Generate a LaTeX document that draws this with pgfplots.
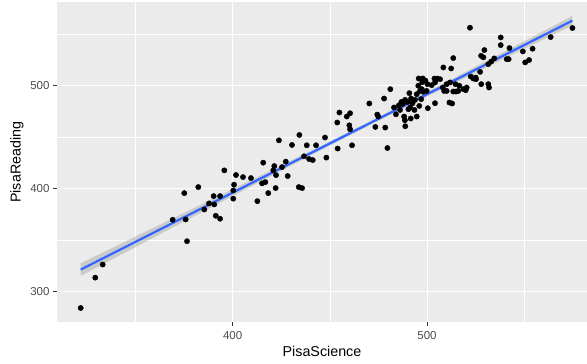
\documentclass[border=0pt]{standalone}
\usepackage{fontspec}
\setmainfont{Liberation Sans}
\usepackage{pgfplots}
\usepackage{pgfplotstable}
\pgfplotsset{compat=1.18}
\definecolor{panel}{HTML}{EBEBEB}
\definecolor{ticklab}{HTML}{4D4D4D}
\definecolor{tickcol}{HTML}{333333}
\definecolor{smoothblue}{HTML}{3366FF}
\pgfplotstableread{
x y
321.8 284.1
329.3 313.6
333.1 326.3
369.1 369.8
375.8 370.1
376.5 349.0
375.1 395.7
382.3 401.6
385.4 379.8
387.8 385.7
390.2 392.8
393.5 392.8
390.5 384.7
391.3 373.7
393.5 370.8
395.7 417.8
400.3 390.3
400.3 398.3
400.7 403.9
401.7 413.3
405.3 411.3
409.4 410.3
412.7 387.9
415.7 425.3
415.1 405.2
416.8 406.4
418.3 395.7
421.4 422.0
422.3 413.2
422.1 400.6
420.9 417.8
423.8 447.0
427.3 426.3
425.4 421.0
428.3 412.3
430.5 442.5
434.3 452.2
434.0 401.6
435.7 400.6
438.1 442.2
442.9 442.2
436.7 431.5
439.3 428.8
441.2 427.8
447.5 449.7
448.2 430.2
454.0 439.0
453.8 464.3
454.9 474.0
458.7 470.1
460.4 473.3
460.0 461.6
460.4 457.7
461.4 442.2
470.3 482.8
473.4 460.0
474.4 472.0
474.9 470.1
478.5 459.4
479.6 439.5
477.9 487.6
481.1 496.7
483.0 478.9
484.0 472.3
486.1 476.5
486.8 484.3
487.5 482.4
488.7 486.3
489.9 484.3
490.9 492.8
491.8 487.6
493.8 486.3
488.2 470.1
488.6 466.5
488.8 460.7
491.6 468.2
490.4 477.2
493.5 476.5
494.7 470.1
496.0 480.4
495.7 507.1
495.5 500.0
496.4 495.0
497.8 507.1
499.1 505.2
500.2 501.6
497.3 496.7
494.7 491.8
500.4 478.2
498.1 494.1
499.8 495.0
502.4 500.6
503.8 507.0
505.3 507.0
506.7 506.4
504.1 503.2
504.1 483.1
508.1 498.3
508.8 495.0
508.4 517.8
512.4 516.8
513.5 526.9
510.1 501.6
511.8 503.2
510.1 495.0
513.5 494.4
514.9 494.4
516.1 495.0
511.5 483.7
512.9 482.8
514.6 501.6
516.6 500.0
518.7 496.7
519.9 495.7
520.4 498.3
522.5 509.0
523.8 507.1
525.0 508.0
527.3 513.5
527.9 501.6
531.5 501.6
531.9 498.3
527.8 529.1
529.0 527.6
529.5 534.7
531.5 521.0
534.6 526.6
522.1 556.4
537.9 547.0
537.9 539.5
542.4 536.6
541.0 525.9
542.0 525.9
549.3 533.4
554.3 536.0
550.5 522.7
552.5 525.0
563.6 547.3
574.8 556.1
533.0 523.5
491.3 478.9
485.5 481.0
492.5 483.0
497.0 487.0
497.5 503.5
525.2 506.4
}\pisadata
\begin{document}
\begin{tikzpicture}
\useasboundingbox (0,0) rectangle (587pt,364pt);
\begin{axis}[
  at={(57pt,41.6pt)}, anchor=south west,
  width=530pt, height=320.4pt, scale only axis,
  xmin=309.6, xmax=582.3, ymin=270.1, ymax=581.4,
  axis background/.style={fill=panel},
  axis line style={draw=none},
  xtick={400,500}, ytick={300,400,500},
  minor xtick={350,450,550}, minor ytick={350,450,550},
  grid=both,
  major grid style={white, line width=1.1pt},
  minor grid style={white, line width=0.55pt},
  tick align=outside,
  xtick pos=bottom, ytick pos=left,
  major tick length=4pt, minor tick length=0pt,
  major tick style={tickcol, line width=0.9pt},
  /pgf/number format/assume math mode=true,
  ticklabel style={font=\fontsize{11.5}{13}\selectfont, text=ticklab},
  xticklabel style={yshift=-1.5pt},
  xlabel={PisaScience}, ylabel={PisaReading},
  label style={font=\fontsize{14.3}{16}\selectfont, text=black},
  xlabel style={at={(axis description cs:0.5,-0.091)}, anchor=center},
  ylabel style={at={(axis description cs:-0.0754,0.5)}, anchor=center},
  clip=true,
]
\addplot[only marks, mark=*, mark size=2.65pt, black] table[x=x,y=y] {\pisadata};
\addplot[draw=none, fill=black!40, fill opacity=0.4] coordinates {
  (321.8,327.5) (350,353.5) (380,381.1) (410,408.8) (440,436.6) (470,464.9) (500,494.0) (530,523.5) (560,553.2) (574.8,567.8)
  (574.8,558.8) (560,545.2) (530,517.5) (500,489.6) (470,461.3) (440,432.3) (410,402.8) (380,373.1) (350,343.3) (321.8,315.3)
};
\addplot[smoothblue, line width=2.2pt] coordinates {(321.8,321.4) (574.8,563.3)};
\end{axis}
\end{tikzpicture}
\end{document}
